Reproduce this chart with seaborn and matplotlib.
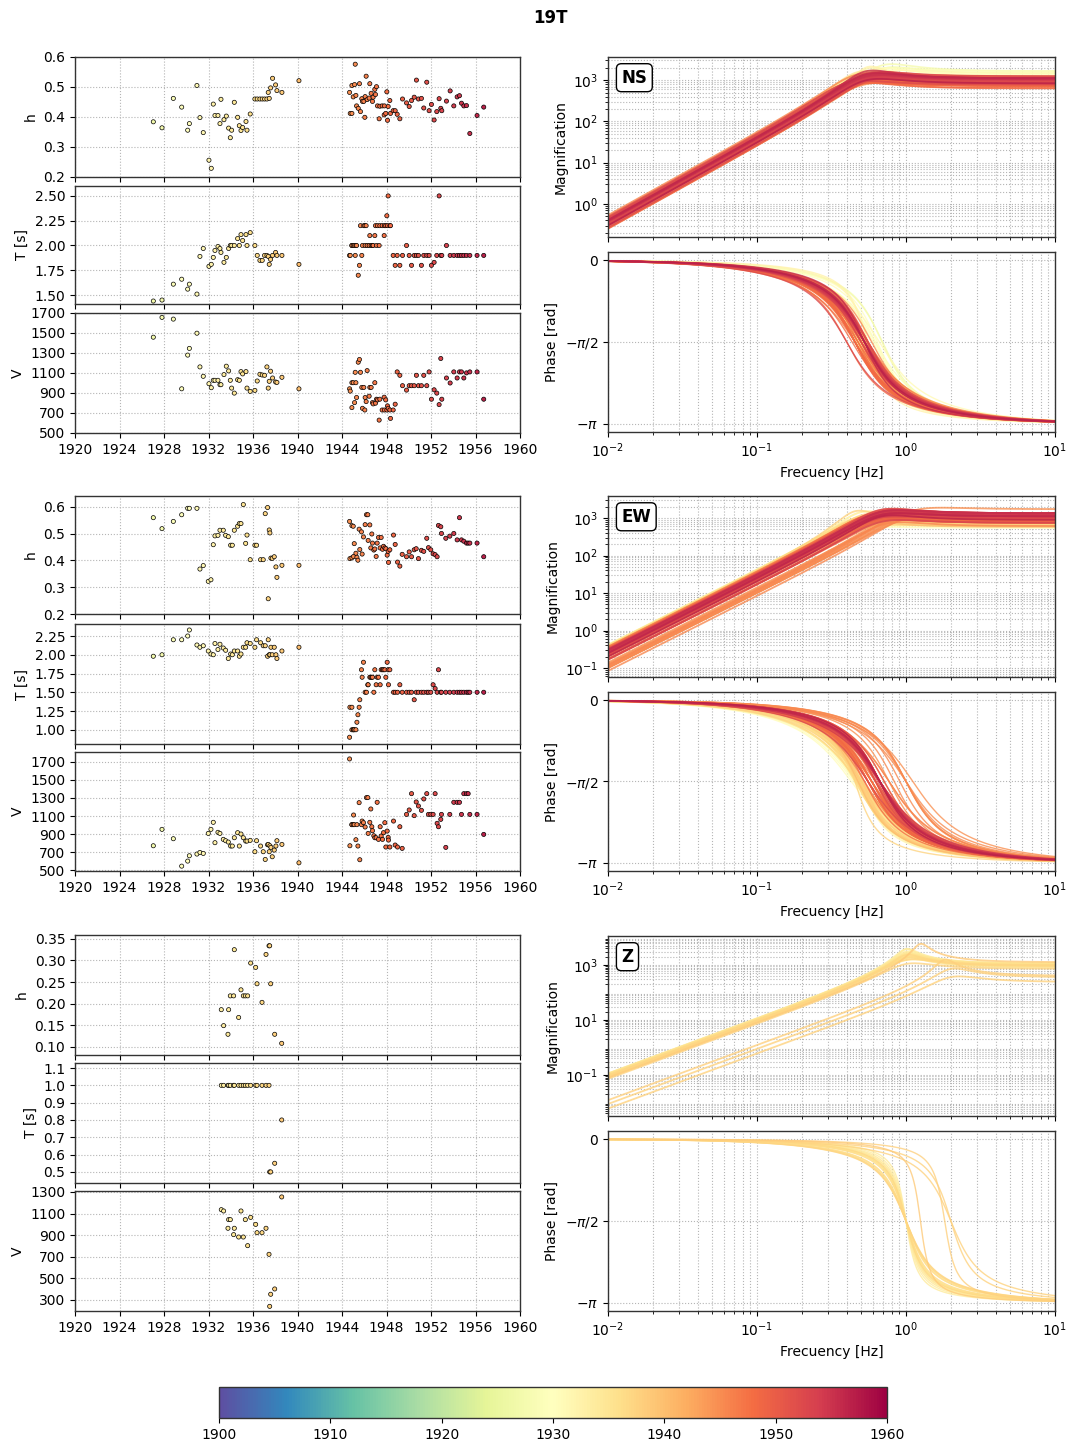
import numpy as np
import pandas as pd
import matplotlib
matplotlib.use("Agg")
import matplotlib.pyplot as plt
import seaborn as sns
from matplotlib.colors import Normalize
from matplotlib.cm import ScalarMappable

# ---------------- instrument constants per record ----------------
# NS component
NS_YEAR = [1927.04, 1927.82, 1928.84, 1929.59, 1930.13, 1930.28, 1930.96, 1931.23, 1931.53, 1932.04,
           1932.25, 1932.43, 1932.58, 1932.85, 1933.03, 1933.12, 1933.39, 1933.60, 1933.81, 1933.96,
           1934.08, 1934.32, 1934.62, 1934.77, 1934.92, 1935.07, 1935.37, 1935.46, 1935.75, 1936.17,
           1936.38, 1936.62, 1936.83, 1937.04, 1937.25, 1937.37, 1937.46, 1937.58, 1937.76, 1938.03,
           1938.15, 1938.60, 1940.13,
           1944.68, 1944.74, 1944.89, 1944.89, 1945.01, 1945.13, 1945.19, 1945.25, 1945.31, 1945.46,
           1945.57, 1945.66, 1945.78, 1945.84, 1945.96, 1946.05, 1946.08, 1946.17, 1946.26, 1946.44,
           1946.50, 1946.62, 1946.74, 1946.80, 1946.95, 1947.01, 1947.10, 1947.19, 1947.34, 1947.40,
           1947.61, 1947.79, 1947.81, 1947.93, 1948.03, 1948.09, 1948.15, 1948.30, 1948.36, 1948.60,
           1948.78, 1948.96, 1949.20, 1949.44, 1949.80, 1950.04, 1950.25, 1950.49, 1950.69, 1950.87,
           1951.14, 1951.35, 1951.62, 1951.83, 1952.04, 1952.28, 1952.52, 1952.73, 1952.88, 1952.97,
           1953.39, 1953.72, 1954.05, 1954.35, 1954.56, 1954.74, 1954.95, 1955.19, 1955.49, 1956.14,
           1956.74]
NS_H = [0.384, 0.364, 0.462, 0.433, 0.356, 0.378, 0.505, 0.398, 0.348, 0.256,
        0.229, 0.443, 0.405, 0.405, 0.378, 0.459, 0.391, 0.403, 0.363, 0.331,
        0.356, 0.449, 0.399, 0.371, 0.355, 0.365, 0.385, 0.356, 0.410, 0.460,
        0.460, 0.460, 0.460, 0.460, 0.460, 0.482, 0.462, 0.497, 0.529, 0.507,
        0.488, 0.482, 0.521,
        0.482, 0.412, 0.505, 0.412, 0.467, 0.508, 0.576, 0.472, 0.437, 0.429,
        0.511, 0.418, 0.461, 0.452, 0.452, 0.399, 0.468, 0.536, 0.458, 0.463,
        0.511, 0.479, 0.452, 0.466, 0.492, 0.475, 0.501, 0.437, 0.394, 0.436,
        0.437, 0.407, 0.437, 0.412, 0.484, 0.389, 0.435, 0.455, 0.412, 0.421,
        0.421, 0.409, 0.394, 0.460, 0.447, 0.435, 0.455, 0.466, 0.523, 0.460,
        0.462, 0.430, 0.516, 0.421, 0.442, 0.390, 0.418, 0.461, 0.429, 0.421,
        0.453, 0.487, 0.437, 0.467, 0.471, 0.446, 0.437, 0.438, 0.345, 0.405,
        0.433]
NS_T = [1.44, 1.45, 1.61, 1.66, 1.56, 1.61, 1.51, 1.89, 1.97, 1.79,
        1.81, 1.88, 1.95, 1.99, 1.97, 1.93, 1.83, 1.88, 1.97, 2.0,
        2.0, 2.0, 2.07, 2.0, 2.11, 2.05, 2.11, 2.0, 2.13, 2.0,
        1.9, 1.85, 1.85, 1.9, 1.9, 1.89, 1.81, 1.86, 1.9, 1.93,
        1.9, 1.9, 1.81,
        1.9, 1.9, 2.0, 2.0, 2.0, 2.0, 1.9, 2.0, 2.0, 1.7,
        1.8, 2.2, 1.9, 2.0, 2.2, 2.2, 2.0, 2.2, 2.0, 2.0,
        2.1, 2.0, 2.0, 2.0, 2.1, 2.2, 2.0, 2.2, 2.0, 2.2,
        2.2, 2.1, 2.2, 2.2, 2.3, 2.2, 2.5, 2.2, 2.2, 1.9,
        1.8, 1.9, 1.8, 1.9, 2.0, 1.9, 1.8, 1.9, 1.9, 1.9,
        1.8, 1.9, 1.9, 1.9, 1.8, 1.83, 1.9, 2.5, 1.9, 1.9,
        2.0, 1.9, 1.9, 1.9, 1.9, 1.9, 1.9, 1.9, 1.9, 1.9,
        1.9]
NS_V = [1458, 1656, 1639, 942, 1279, 1346, 1498, 1161, 1067, 993,
        953, 1027, 1027, 1027, 983, 983, 1084, 1168, 1121, 1027,
        949, 899, 1033, 1027, 1114, 1091, 1114, 949, 916, 926,
        1020, 1087, 1080, 1077, 1161, 949, 1017, 1118, 1050, 1010,
        1006, 1057, 942,
        942, 919, 754, 1003, 1003, 804, 1107, 1003, 855, 1208,
        1235, 1107, 956, 747, 956, 730, 855, 814, 1124, 868,
        956, 956, 804, 791, 1003, 798, 838, 831, 629, 838,
        730, 858, 730, 831, 730, 771, 747, 730, 646, 730,
        788, 1111, 1077, 973, 929, 973, 973, 973, 1077, 973,
        973, 1077, 973, 1111, 838, 932, 899, 784, 1245, 838,
        1050, 1000, 1111, 1050, 1111, 1111, 1050, 1101, 1111, 1111,
        838]

# EW component
EW_YEAR = [1927.04, 1927.82, 1928.84, 1929.59, 1930.13, 1930.28, 1930.96, 1931.23, 1931.53, 1931.98,
           1932.22, 1932.43, 1932.58, 1932.85, 1933.03, 1933.33, 1933.54, 1933.78, 1933.99, 1934.14,
           1934.32, 1934.62, 1934.77, 1934.92, 1935.13, 1935.34, 1935.46, 1935.75, 1936.17, 1936.32,
           1936.68, 1936.92, 1937.10, 1937.31, 1937.37, 1937.46, 1937.52, 1937.61, 1937.73, 1937.91,
           1938.06, 1938.15, 1938.60, 1940.13,
           1944.68, 1944.71, 1944.89, 1944.89, 1945.01, 1945.04, 1945.10, 1945.25, 1945.34, 1945.43,
           1945.54, 1945.60, 1945.75, 1945.81, 1945.93, 1946.08, 1946.20, 1946.32, 1946.35, 1946.50,
           1946.59, 1946.68, 1946.74, 1946.86, 1946.95, 1947.07, 1947.16, 1947.28, 1947.43, 1947.52,
           1947.64, 1947.73, 1947.85, 1947.94, 1948.06, 1948.15, 1948.18, 1948.30, 1948.63, 1948.78,
           1948.99, 1949.20, 1949.41, 1949.80, 1950.04, 1950.25, 1950.49, 1950.67, 1950.87, 1951.14,
           1951.35, 1951.62, 1951.77, 1951.98, 1952.19, 1952.37, 1952.55, 1952.67, 1952.88, 1952.94,
           1953.33, 1953.69, 1954.05, 1954.35, 1954.56, 1954.74, 1954.95, 1955.19, 1955.34, 1955.49,
           1956.14, 1956.74]
EW_H = [0.560, 0.519, 0.546, 0.571, 0.595, 0.595, 0.595, 0.368, 0.381, 0.322,
        0.328, 0.459, 0.492, 0.494, 0.513, 0.513, 0.494, 0.489, 0.457, 0.457,
        0.513, 0.528, 0.538, 0.538, 0.609, 0.464, 0.495, 0.403, 0.457, 0.457,
        0.403, 0.403, 0.575, 0.598, 0.257, 0.514, 0.503, 0.409, 0.408, 0.414,
        0.376, 0.337, 0.382, 0.382,
        0.546, 0.407, 0.530, 0.410, 0.528, 0.415, 0.463, 0.427, 0.412, 0.401,
        0.517, 0.441, 0.507, 0.424, 0.488, 0.534, 0.571, 0.571, 0.475, 0.533,
        0.447, 0.499, 0.465, 0.439, 0.443, 0.415, 0.465, 0.486, 0.447, 0.486,
        0.442, 0.453, 0.447, 0.444, 0.420, 0.434, 0.393, 0.440, 0.495, 0.460,
        0.394, 0.379, 0.423, 0.414, 0.432, 0.414, 0.440, 0.444, 0.407, 0.438,
        0.434, 0.483, 0.448, 0.440, 0.425, 0.422, 0.414, 0.531, 0.526, 0.501,
        0.483, 0.491, 0.501, 0.477, 0.560, 0.477, 0.472, 0.465, 0.465, 0.465,
        0.465, 0.414]
EW_T = [1.98, 2.00, 2.20, 2.20, 2.25, 2.33, 2.13, 2.10, 2.12, 2.05,
        2.01, 2.00, 2.15, 2.07, 2.14, 2.09, 2.06, 1.95, 2.01, 2.00,
        2.05, 2.05, 1.98, 2.01, 2.10, 2.10, 2.16, 2.15, 2.10, 2.20,
        2.16, 2.12, 2.12, 1.98, 2.20, 2.00, 2.00, 2.10, 2.00, 2.10,
        2.00, 1.95, 2.05, 2.10,
        0.90, 1.30, 1.30, 1.00, 1.00, 1.00, 1.00, 1.00, 1.10, 1.20,
        1.30, 1.40, 1.80, 1.70, 1.90, 1.50, 1.50, 1.60, 1.60, 1.70,
        1.70, 1.70, 1.70, 1.50, 1.80, 1.60, 1.70, 1.70, 1.60, 1.80,
        1.80, 1.80, 1.80, 1.70, 1.90, 1.80, 1.60, 1.80, 1.50, 1.50,
        1.50, 1.60, 1.50, 1.50, 1.50, 1.50, 1.40, 1.50, 1.50, 1.50,
        1.50, 1.50, 1.50, 1.50, 1.60, 1.55, 1.50, 1.80, 1.50, 1.50,
        1.50, 1.50, 1.50, 1.50, 1.50, 1.50, 1.50, 1.50, 1.50, 1.50,
        1.50, 1.50]
EW_V = [770, 952, 848, 544, 600, 659, 678, 696, 685, 907,
        952, 1030, 804, 919, 907, 841, 826, 811, 767, 767,
        859, 915, 767, 900, 859, 822, 822, 830, 704, 826,
        767, 704, 618, 781, 785, 704, 770, 752, 648, 722,
        767, 826, 785, 581,
        1733, 770, 1004, 1004, 1004, 1111, 1004, 837, 1004, 767,
        1248, 615, 1004, 1044, 1026, 978, 1304, 1304, 907, 1030,
        1178, 981, 937, 881, 859, 859, 1252, 841, 981, 878,
        841, 915, 1026, 756, 933, 863, 833, 756, 1044, 778,
        756, 981, 741, 1118, 1167, 1348, 1104, 1256, 1211, 1163,
        1289, 1348, 1118, 1118, 1118, 1348, 1019, 981, 1063, 1118,
        752, 1118, 1252, 1252, 1252, 1118, 1348, 1348, 1348, 1118,
        1118, 896]

# Z component
Z_YEAR = [1933.15, 1933.36, 1933.75, 1933.81, 1933.96, 1934.26, 1934.32, 1934.71, 1934.92, 1935.13,
          1935.31, 1935.52, 1935.79, 1936.24, 1936.36, 1936.81, 1937.17, 1937.44, 1937.50, 1937.59,
          1937.95, 1938.58]
Z_H = [0.186, 0.149, 0.129, 0.186, 0.218, 0.218, 0.325, 0.168, 0.232, 0.218,
       0.218, 0.218, 0.294, 0.284, 0.246, 0.203, 0.314, 0.334, 0.334, 0.246,
       0.129, 0.108]
Z_T = [1.0, 1.0, 1.0, 1.0, 1.0, 1.0, 1.0, 1.0, 1.0, 1.0,
       1.0, 1.0, 1.0, 1.0, 1.0, 1.0, 1.0, 1.0, 0.5, 0.5,
       0.55, 0.8]
Z_V = [1136, 1124, 964, 1044, 1044, 905, 964, 883, 1124, 883,
       1044, 803, 1065, 1000, 923, 923, 964, 723, 241, 353,
       402, 1254]

COMPONENTS = ["NS", "EW", "Z"]
YEAR_TICKS = list(range(1920, 1961, 4))
CBAR_TICKS = list(range(1900, 1961, 10))

CMAP = "Spectral_r"
HUE_NORM = (1900, 1960)

# ---------------- layout ----------------
W, H = 1069, 1440


def rect(x0, y0, x1, y1):
    return [x0 / W, 1 - y1 / H, (x1 - x0) / W, (y1 - y0) / H]


LEFT_ROWS = [[(57, 177), (186, 304), (313, 433)],
             [(496, 614), (624, 744), (752, 871)],
             [(935, 1055), (1063, 1183), (1191, 1311)]]
RIGHT_ROWS = [[(57, 237), (252, 432)],
              [(496, 677), (692, 871)],
              [(936, 1116), (1131, 1311)]]

LEFT_YLIM = [[(0.2, 0.6), (1.41, 2.60), (500, 1700)],
             [(0.2, 0.641), (0.81, 2.41), (490, 1810)],
             [(0.081, 0.359), (0.436, 1.129), (198, 1309)]]
LEFT_YTICKS = [[np.arange(0.2, 0.61, 0.1), np.arange(1.5, 2.51, 0.25), np.arange(500, 1701, 200)],
               [np.arange(0.2, 0.61, 0.1), np.arange(1.0, 2.26, 0.25), np.arange(500, 1701, 200)],
               [np.arange(0.10, 0.351, 0.05), np.arange(0.5, 1.11, 0.1), np.arange(300, 1301, 200)]]
LEFT_FMT = [["%.1f", "%.2f", "%d"], ["%.1f", "%.2f", "%d"], ["%.2f", "%.1f", "%d"]]
MAG_YLIM = [(10 ** -0.8, 10 ** 3.56), (10 ** -1.24, 10 ** 3.59), (10 ** -2.49, 10 ** 4.05)]
MAG_YTICKS = [[1e0, 1e1, 1e2, 1e3], [1e-1, 1e0, 1e1, 1e2, 1e3], [1e-1, 1e1, 1e3]]

plt.rcParams.update({
    "font.family": ["DejaVu Sans"],
    "font.size": 10,
    "axes.edgecolor": "#333333",
    "axes.linewidth": 1.0,
    "xtick.labelsize": 10,
    "ytick.labelsize": 10,
})

FREQ = np.logspace(-2, 1, 400)


def seismometer_response(h, T, V, f):
    u = f * T
    mag = V * u ** 2 / np.sqrt((1 - u ** 2) ** 2 + (2 * h * u) ** 2)
    phase = -np.arctan2(2 * h * u, 1 - u ** 2)
    return mag, phase


def response_table(years, hs, Ts, Vs):
    frames = []
    for i, (y, h, T, V) in enumerate(zip(years, hs, Ts, Vs)):
        mag, ph = seismometer_response(h, T, V, FREQ)
        frames.append(pd.DataFrame({"f": FREQ, "mag": mag, "phase": ph,
                                    "year": y, "rid": i}))
    return pd.concat(frames, ignore_index=True)


DATA = {
    "NS": (NS_YEAR, NS_H, NS_T, NS_V),
    "EW": (EW_YEAR, EW_H, EW_T, EW_V),
    "Z": (Z_YEAR, Z_H, Z_T, Z_V),
}

fig = plt.figure(figsize=(W / 100, H / 100), dpi=100)
fig.text(550 / W, 1 - 18 / H, "19T", ha="center", va="center",
         fontsize=12, fontweight="bold")

grid_kw = dict(linestyle=":", color="#b5b5b5", linewidth=0.8)

for row, comp in enumerate(COMPONENTS):
    years, hs, Ts, Vs = DATA[comp]
    df = pd.DataFrame({"year": years, "h": hs, "T": Ts, "V": Vs})

    # parameter history panels
    for k, (col, lab) in enumerate(zip(["h", "T", "V"], ["h", "T [s]", "V"])):
        y0, y1 = LEFT_ROWS[row][k]
        ax = fig.add_axes(rect(75, y0, 520, y1))
        ax.set_axisbelow(True)
        ax.grid(True, **grid_kw)
        sns.scatterplot(data=df, x="year", y=col, hue="year", palette=CMAP,
                        hue_norm=HUE_NORM, s=9, edgecolor="black",
                        linewidth=0.5, legend=False, ax=ax, zorder=3)
        ax.set_xlim(1920, 1960)
        ax.set_xticks(YEAR_TICKS)
        ax.set_ylim(*LEFT_YLIM[row][k])
        ax.set_yticks(LEFT_YTICKS[row][k])
        ax.yaxis.set_major_formatter(matplotlib.ticker.FormatStrFormatter(LEFT_FMT[row][k]))
        ax.set_ylabel(lab)
        ax.set_xlabel("")
        if k < 2:
            ax.tick_params(axis="x", labelbottom=False)

    # response panels
    resp = response_table(years, hs, Ts, Vs)
    (m0, m1), (p0, p1) = RIGHT_ROWS[row]

    axm = fig.add_axes(rect(608, m0, 1055, m1))
    axm.set_xscale("log")
    axm.set_yscale("log")
    axm.set_axisbelow(True)
    sns.lineplot(data=resp, x="f", y="mag", hue="year", units="rid",
                 estimator=None, palette=CMAP, hue_norm=HUE_NORM,
                 linewidth=1.3, alpha=0.8, legend=False, ax=axm, sort=False)
    axm.set_xlim(1e-2, 1e1)
    axm.set_ylim(*MAG_YLIM[row])
    axm.set_yticks(MAG_YTICKS[row])
    axm.yaxis.set_minor_locator(matplotlib.ticker.LogLocator(base=10, subs=np.arange(2, 10), numticks=50))
    axm.yaxis.set_minor_formatter(matplotlib.ticker.NullFormatter())
    axm.grid(True, which="both", **grid_kw)
    axm.tick_params(axis="x", which="both", labelbottom=False)
    axm.set_xlabel("")
    axm.set_ylabel("Magnification")
    axm.text(0.03, 0.935, comp, transform=axm.transAxes, ha="left", va="top",
             fontsize=12, fontweight="bold",
             bbox=dict(boxstyle="round,pad=0.3", facecolor="white",
                       edgecolor="black", linewidth=1.0))

    axp = fig.add_axes(rect(608, p0, 1055, p1))
    axp.set_xscale("log")
    axp.set_axisbelow(True)
    sns.lineplot(data=resp, x="f", y="phase", hue="year", units="rid",
                 estimator=None, palette=CMAP, hue_norm=HUE_NORM,
                 linewidth=1.0, alpha=0.8, legend=False, ax=axp, sort=False)
    axp.set_xlim(1e-2, 1e1)
    axp.set_ylim(-np.pi * 1.05, np.pi * 0.05)
    axp.set_yticks([-np.pi, -np.pi / 2, 0])
    axp.set_yticklabels([r"$-\pi$", r"$-\pi/2$", "0"])
    axp.grid(True, which="both", axis="x", **grid_kw)
    axp.grid(True, which="major", axis="y", **grid_kw)
    axp.set_xlabel("Frecuency [Hz]")
    axp.set_ylabel("Phase [rad]")

# colour scale for the year
cax = fig.add_axes(rect(219, 1387, 887, 1418))
sm = ScalarMappable(norm=Normalize(*HUE_NORM), cmap=CMAP)
cb = fig.colorbar(sm, cax=cax, orientation="horizontal", ticks=CBAR_TICKS)
cb.ax.set_xticklabels([str(t) for t in CBAR_TICKS])
cb.outline.set_linewidth(1.0)

fig.savefig("out.png", dpi=100)
